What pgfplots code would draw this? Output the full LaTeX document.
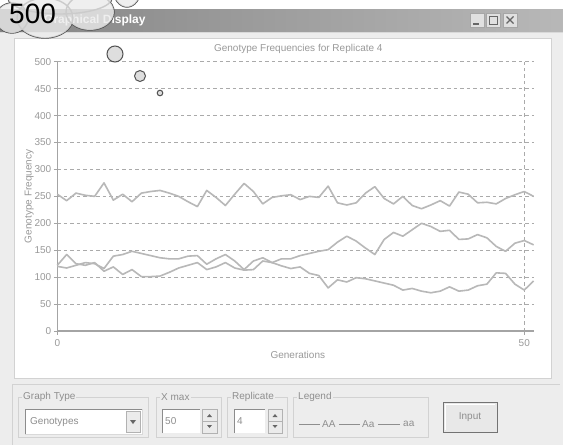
\documentclass[border=0pt]{standalone}
\usepackage{fontspec}
\setmainfont{Liberation Sans}
\usepackage{pgfplots}
\usepackage{pgfplotstable}
\pgfplotsset{compat=1.18}
\definecolor{txtgray}{HTML}{999999}
\definecolor{axgray}{HTML}{A4A4A4}
\definecolor{dashgray}{HTML}{AAAAAA}
\definecolor{linegray}{HTML}{B8B8B8}
\definecolor{winbg}{HTML}{EDEDED}
\definecolor{framegray}{HTML}{D2D2D2}
\definecolor{paneltxt}{HTML}{8E8E8E}

\pgfplotstableread{
g Aa P Q
0 254 122 120
1 242 142 117
2 256 125 122
3 252 122 127
4 250 127 125
5 275 111 116
6 243 119 139
7 254 105 142
8 240 114 148
9 256 101 144
10 259 101 140
11 261 102 136
12 256 109 134
13 250 117 134
14 240 122 139
15 231 127 140
16 261 114 124
17 248 119 134
18 233 127 142
19 254 117 130
20 274 113 114
21 259 114 130
22 236 130 136
23 248 127 127
24 251 121 134
25 253 116 134
26 244 119 140
27 250 107 144
28 248 103 148
29 269 80 151
30 238 95 165
31 234 91 176
32 238 99 167
33 256 97 154
34 268 93 142
35 246 89 170
36 236 85 183
37 250 76 176
38 233 79 188
39 227 74 200
40 234 71 194
41 242 74 185
42 232 82 187
43 258 74 170
44 254 76 171
45 238 84 179
46 239 87 173
47 236 108 157
48 246 107 148
49 253 87 163
50 259 76 168
51 250 93 160
}\gentable

\begin{document}
\begin{tikzpicture}
% ---------- window background ----------
\begin{scope}[x=1pt,y=-1pt]
\useasboundingbox (0,0) rectangle (563,445);
\fill[white] (0,0) rectangle (563,445);
\fill[winbg] (0,32) rectangle (563,445);
\shade[left color=black!48, right color=black!28] (0,9) rectangle (563,31);
\draw[black!15, line width=1pt] (0,32) -- (563,32);
\node[anchor=west, inner sep=0, text=white, font=\bfseries\fontsize{12}{14}\selectfont] at (44,20) {Graphical Display};
% title buttons
\foreach \bx in {470,486,503}{
  \fill[black!12] (\bx,13) rectangle ++(14,14);
  \draw[black!35, line width=0.6pt] (\bx,13) rectangle ++(14,14);
}
\draw[black!60, line width=1.2pt] (473,24) -- (479,24);
\draw[black!60, line width=0.9pt] (489,16) rectangle (497,24);
\draw[black!60, line width=1.2pt] (506.5,16.5) -- (513.5,23.5) (506.5,23.5) -- (513.5,16.5);
% chart panel
\fill[white] (14,38) rectangle (551,378);
\draw[framegray, line width=0.8pt] (14,38) rectangle (551,378);
% bottom frame
\draw[framegray, line width=0.8pt] (12,384) -- (560,384);
\draw[framegray, line width=0.8pt] (12,384) -- (12,445);
% group boxes
\begin{scope}[every node/.style={inner sep=1pt, text=paneltxt, font=\fontsize{10}{12}\selectfont}]
\draw[framegray, line width=0.8pt] (18,397) rectangle (148,437);
\node[anchor=west, fill=winbg] at (22,397) {Graph Type};
\fill[white] (25,409) rectangle (142,434);
\draw[black!45, line width=0.7pt] (25,434) -- (25,409) -- (142,409);
\draw[black!15, line width=0.7pt] (25,434) -- (142,434) -- (142,409);
\node[anchor=west] at (29,422) {Genotypes};
\fill[black!8] (126,411) rectangle (140,432);
\draw[black!30, line width=0.6pt] (126,411) rectangle (140,432);
\fill[black!60] (130,420) -- (136,420) -- (133,424) -- cycle;

\draw[framegray, line width=0.8pt] (156,397) rectangle (221,437);
\node[anchor=west, fill=winbg] at (160,397) {X max};
\fill[white] (162,409) rectangle (200,433);
\draw[black!45, line width=0.7pt] (162,433) -- (162,409) -- (200,409);
\node[anchor=west] at (164,421) {50};
\fill[black!8] (202,409) rectangle (217,433);
\draw[black!30, line width=0.6pt] (202,409) rectangle (217,433) (202,421) -- (217,421);
\fill[black!60] (207,417) -- (212,417) -- (209.5,414) -- cycle;
\fill[black!60] (207,425) -- (212,425) -- (209.5,428) -- cycle;

\draw[framegray, line width=0.8pt] (227,397) rectangle (287,437);
\node[anchor=west, fill=winbg] at (231,397) {Replicate};
\fill[white] (234,409) rectangle (265,433);
\draw[black!45, line width=0.7pt] (234,433) -- (234,409) -- (265,409);
\node[anchor=west] at (236,421) {4};
\fill[black!8] (268,409) rectangle (282,433);
\draw[black!30, line width=0.6pt] (268,409) rectangle (282,433) (268,421) -- (282,421);
\fill[black!60] (272.5,417) -- (277.5,417) -- (275,414) -- cycle;
\fill[black!60] (272.5,425) -- (277.5,425) -- (275,428) -- cycle;

\draw[framegray, line width=0.8pt] (293,397) rectangle (428,437);
\node[anchor=west, fill=winbg] at (297,397) {Legend};
\draw[paneltxt, line width=0.7pt] (299,424) -- (320,424);
\node[anchor=west] at (321,424) {AA};
\draw[paneltxt, line width=0.7pt] (339,424) -- (360,424);
\node[anchor=west] at (361,424) {Aa};
\draw[paneltxt, line width=0.7pt] (378,424) -- (400,424);
\node[anchor=west] at (402,424) {aa};

\fill[black!9] (443,402) rectangle (497,432);
\draw[black!55, line width=0.9pt] (443,402) rectangle (497,432);
\draw[white, line width=0.7pt] (445,430) -- (445,404) -- (495,404);
\node at (470,417) {Input};
\end{scope}
\end{scope}

% ---------- chart ----------
\begin{axis}[
  at={(57.3pt,-331pt)}, anchor=south west,
  scale only axis, width=476.3pt, height=269.3pt,
  xmin=0, xmax=51, ymin=0, ymax=500,
  axis x line*=bottom, axis y line*=left,
  axis line style={draw=axgray, line width=1.2pt, -},
  xtick={0,50}, ytick={0,50,...,500},
  tick align=outside, major tick length=3.5pt,
  tick style={draw=axgray, line width=1pt},
  grid=major,
  grid style={draw=dashgray, dash pattern=on 3.5pt off 3pt, line width=0.9pt},
  ticklabel style={font=\fontsize{10}{12}\selectfont, text=txtgray},
  /pgf/number format/assume math mode=true,
  xticklabel style={yshift=-1pt},
  yticklabel style={xshift=1pt},
  title={Genotype Frequencies for Replicate 4},
  title style={at={(axis description cs:0.506,1.025)}, anchor=center, font=\fontsize{10}{12}\selectfont, text=txtgray},
  xlabel={Generations},
  xlabel style={at={(axis description cs:0.505,-0.089)}, anchor=center, font=\fontsize{10}{12}\selectfont, text=txtgray},
  ylabel={Genotype Frequency},
  ylabel style={at={(axis description cs:-0.059,0.5)}, anchor=center, font=\fontsize{10}{12}\selectfont, text=txtgray},
  clip=false,
]
\addplot[linegray, line width=1.6pt, line join=round] table[x=g, y=Aa] {\gentable};
\addplot[linegray, line width=1.6pt, line join=round] table[x=g, y=P] {\gentable};
\addplot[linegray, line width=1.6pt, line join=round] table[x=g, y=Q] {\gentable};
\end{axis}

% ---------- callout cloud ----------
\begin{scope}[x=1pt,y=-1pt]
\clip (0,0) rectangle (563,445);
\draw[black!70, line width=1.4pt] (12,18) ellipse (16 and 15);
\draw[black!70, line width=1.4pt] (45,18) ellipse (28 and 20);
\draw[black!70, line width=1.4pt] (90,12) ellipse (24 and 18);
\draw[black!70, line width=1.4pt] (127,-12) ellipse (14 and 19);
\draw[black!70, line width=1.4pt] (60,-2) ellipse (52 and 16);
\begin{scope}[transparency group, opacity=0.8]
\fill[black!8] (12,18) ellipse (16 and 15);
\fill[black!8] (45,18) ellipse (28 and 20);
\fill[black!8] (90,12) ellipse (24 and 18);
\fill[black!8] (127,-12) ellipse (14 and 19);
\fill[black!8] (60,-2) ellipse (52 and 16);
\end{scope}
\node[anchor=base west, inner sep=0, font=\fontsize{28}{30}\selectfont] at (9,23) {500};
\filldraw[fill=black!13, draw=black!68, line width=1pt] (115,54) circle (8);
\filldraw[fill=black!13, draw=black!68, line width=1pt] (140,76) circle (5.5);
\filldraw[fill=black!13, draw=black!68, line width=1pt] (160,93) circle (2.8);
\end{scope}
\end{tikzpicture}
\end{document}
